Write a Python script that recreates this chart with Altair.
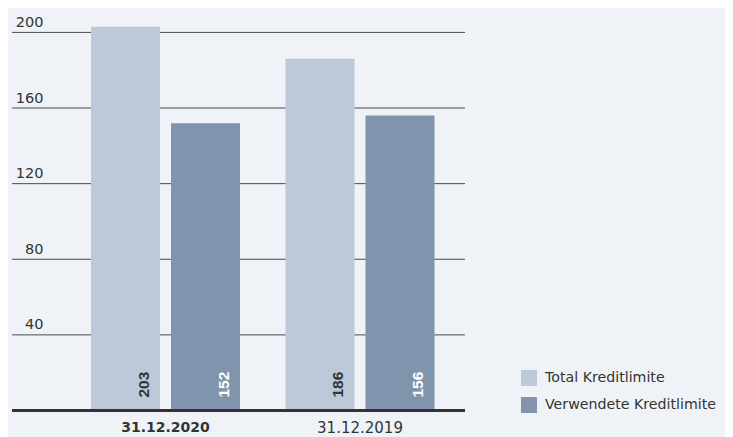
import altair as alt
import pandas as pd

dates = ["31.12.2020", "31.12.2019"]
series = ["Total Kreditlimite", "Verwendete Kreditlimite"]
total_vals = [203, 186]
used_vals = [152, 156]
y_ticks = [40, 80, 120, 160, 200]

rows = []
for d, t, u in zip(dates, total_vals, used_vals):
    rows.append({"date": d, "series": series[0], "value": t})
    rows.append({"date": d, "series": series[1], "value": u})
df = pd.DataFrame(rows)
grid_df = pd.DataFrame({"tick": y_ticks})

BG = "#eff3f7"
TXT = "#333333"
FONT = "DejaVu Sans"

x_enc = alt.X(
    "date:N",
    sort=dates,
    scale=alt.Scale(domain=dates, range=[79, 422.5], paddingInner=0.2339, paddingOuter=0),
    axis=alt.Axis(
        title=None, domain=False, ticks=False, labelAngle=0, labelPadding=10,
        labelFont=FONT, labelColor=TXT,
        labelFontSize=alt.expr("datum.label == '31.12.2020' ? 14 : 15"),
        labelFontWeight=alt.expr("datum.label == '31.12.2020' ? 'bold' : 'normal'"),
    ),
)
xo_enc = alt.XOffset("series:N", sort=series,
                     scale=alt.Scale(domain=series, paddingInner=0.1375, paddingOuter=0))
y_scale = alt.Scale(domain=[0, 210], nice=False)

grid = alt.Chart(grid_df).mark_rule(color="#4a4a4a", strokeWidth=1).encode(
    y=alt.Y("tick:Q", scale=y_scale,
            axis=alt.Axis(title=None, values=y_ticks, domain=False, ticks=False, tickSize=0,
                          grid=False,
                          labelAlign="right", labelBaseline="alphabetic",
                          labelPadding=-31, labelOffset=-6, labelFlush=False,
                          labelOverlap=False, labelFont=FONT, labelFontSize=14.5,
                          labelColor=TXT)),
)

bars = alt.Chart(df).mark_bar().encode(
    x=x_enc,
    xOffset=xo_enc,
    y=alt.Y("value:Q", scale=y_scale),
    color=alt.Color("series:N", sort=series,
                    scale=alt.Scale(domain=series, range=["#bdc9d8", "#8094ae"]),
                    legend=alt.Legend(title=None, orient="none", legendX=509, legendY=356.5,
                                      symbolType="square", symbolSize=256,
                                      symbolStrokeWidth=0, rowPadding=11, labelOffset=8,
                                      labelFont=FONT, labelFontSize=14.2, labelColor=TXT,
                                      labelBaseline="middle",
                                      padding=0, labelLimit=400)),
)

labels = alt.Chart(df).mark_text(
    angle=270, align="left", baseline="middle", dx=13, dy=18,
    font="Liberation Sans", fontSize=15.5, fontWeight="bold",
).encode(
    x=x_enc,
    xOffset=xo_enc,
    y=alt.datum(0),
    text=alt.Text("value:Q"),
    color=alt.condition(alt.datum.series == series[0], alt.value(TXT), alt.value("#ffffff")),
)

baseline = alt.Chart(df).mark_rule(color="#333333", strokeWidth=2.5).encode(
    y=alt.datum(0)
)

chart = alt.layer(grid, bars, labels, baseline).properties(
    width=453, height=397,
    background=BG,
    padding={"left": 4, "top": 5.5, "right": 260, "bottom": 26.5},
    autosize=alt.AutoSizeParams(type="none"),
).configure_view(stroke=None)

chart.save("out.html", embed_options={"renderer": "svg", "actions": False})
